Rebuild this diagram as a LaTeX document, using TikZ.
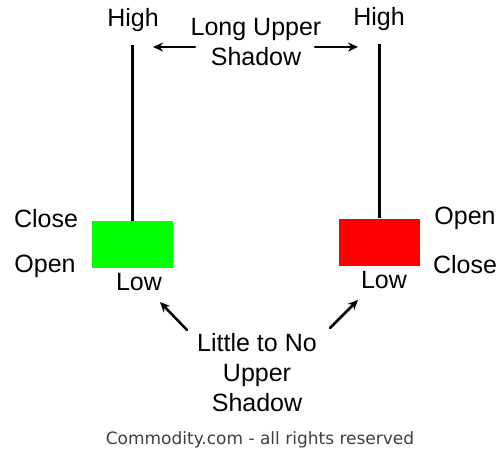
\documentclass[tikz,border=0pt]{standalone}
\usepackage{fontspec}
\setmainfont{Liberation Sans}
\newfontfamily\footfont{DejaVu Sans}
\usetikzlibrary{arrows.meta,positioning}

\begin{document}
\begin{tikzpicture}[
        >=Stealth, line join=round, line cap=round,
        x=1pt, y=-1pt,
        font=\fontsize{25}{30}\selectfont,
        lbl/.style={inner sep=1pt, align=center},
        candle/.style={minimum width=81pt, minimum height=47pt, inner sep=0pt},
        wick/.style={line width=3pt, line cap=butt},
        arr/.style={->, line width=2.5pt, >={Stealth[length=10pt, width=9pt]}}
      ]
      \useasboundingbox (0,0) rectangle (501,453);

      % ---- bullish candle (left) ----
      \node[candle, fill={rgb,255:red,0;green,255;blue,0}] (bodyG) at (132.5,244.5) {};
      \node[lbl] (highL) at (133,20) {High};
      \node[lbl] (closeL) at (46,219) {Close};
      \node[lbl] (openL) at (45,266) {Open};
      \node[lbl] (lowL) at (139,282) {Low};
      \draw[wick, shorten >=12pt] (bodyG.north) -- (bodyG.north |- highL.south);

      % ---- bearish candle (right) ----
      \node[candle, fill={rgb,255:red,255;green,0;blue,0}] (bodyR) at (379.5,242) {};
      \node[lbl] (highR) at (379,19) {High};
      \node[lbl] (openR) at (465,218) {Open};
      \node[lbl] (closeR) at (465,265) {Close};
      \node[lbl] (lowR) at (384,280) {Low};
      \draw[wick, shorten >=12pt] (bodyR.north) -- (bodyR.north |- highR.south);

      % ---- top note ----
      \node[lbl] (upperTxt) at (256,42) {Long Upper\\Shadow};
      \coordinate (upTailL) at (195,47);
      \coordinate (upTipL) at (153,47);
      \coordinate (upTailR) at (315,47);
      \coordinate (upTipR) at (358,47);
      \draw[arr] (upTailL) -- (upTipL);
      \draw[arr] (upTailR) -- (upTipR);

      % ---- bottom note ----
      \node[lbl] (noneTxt) at (257,373) {Little to No\\Upper\\Shadow};
      \coordinate (lowTailL) at (187,330);
      \coordinate (lowTipL) at (160,302);
      \coordinate (lowTailR) at (330,328);
      \coordinate (lowTipR) at (358,300);
      \draw[arr] (lowTailL) -- (lowTipL);
      \draw[arr] (lowTailR) -- (lowTipR);

      % footer
      \node[lbl, font=\footfont\fontsize{17}{20}\selectfont, text=black!75] (credit) at (260,440) {Commodity.com - all rights reserved};

    \end{tikzpicture}
\end{document}
